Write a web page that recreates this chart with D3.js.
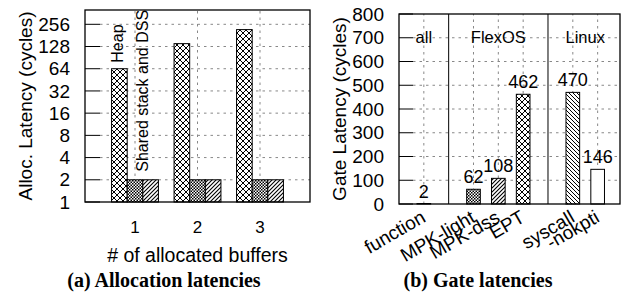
<!DOCTYPE html>
<meta charset="utf-8">
<script src="https://d3js.org/d3.v7.min.js"></script>
<style>
  body { margin: 0; background: white; }
  text { font-family: "Liberation Sans", Arial, sans-serif; fill: black; }
  .caption { font-family: "Liberation Serif", "Times New Roman", serif; font-weight: bold; }
</style>
<svg id="chart" width="626" height="297"></svg>
<script>

// ---- data: (a) allocation latencies (log2 scale)
var buffers = [1, 2, 3];
var heapLat = [64, 140, 217];
var stackLat = [2, 2, 2];
var dssLat = [2, 2, 2];
var allocTicks = [1, 2, 4, 8, 16, 32, 64, 128, 256];

// ---- data: (b) gate latencies
var gateNames = ["function", "MPK-light", "MPK-dss", "EPT", "syscall", "-nokpti"];
var gatePos = [0, 2, 3, 4, 6, 7];
var gateLat = [2, 62, 108, 462, 470, 146];
var gateFill = ["white", "url(#checker)", "url(#slash)", "url(#cross)", "url(#back)", "white"];
var groupNames = ["all", "FlexOS", "Linux"];
var groupPos = [0, 3, 6.5];
var groupSeps = [1, 5];
var gateTicks = [0, 100, 200, 300, 400, 500, 600, 700, 800];

var svg = d3.select("#chart");

// fill patterns
var defs = svg.append("defs");
function pattern(id, size, d, sw) {
  var p = defs.append("pattern")
    .attr("id", id)
    .attr("patternUnits", "userSpaceOnUse")
    .attr("width", size).attr("height", size);
  p.append("rect").attr("width", size).attr("height", size).attr("fill", "white");
  p.append("path").attr("d", d).attr("stroke", "black").attr("stroke-width", sw).attr("fill", "none");
}
pattern("cross", 6, "M-1,-1L7,7M7,-1L-1,7", 1);
pattern("slash", 4, "M-1,5L5,-1M-1,1L1,-1M3,5L5,3", 1.1);
pattern("back", 4, "M-1,-1L5,5M-1,3L1,5M3,-1L5,1", 1);
var chk = defs.append("pattern")
  .attr("id", "checker")
  .attr("patternUnits", "userSpaceOnUse")
  .attr("width", 3).attr("height", 3);
chk.append("rect").attr("width", 3).attr("height", 3).attr("fill", "white");
chk.append("rect").attr("width", 1.5).attr("height", 1.5).attr("fill", "black");
chk.append("rect").attr("x", 1.5).attr("y", 1.5).attr("width", 1.5).attr("height", 1.5).attr("fill", "black");

var gridDash = "2.5,4";

// =============== (a) Allocation latencies
var xa = d3.scaleLinear().domain([0.2, 3.8]).range([85, 310]);
var ya = d3.scaleLog().base(2).domain([1, 400]).range([202, 10]);
var ga = svg.append("g");

// grid
ga.selectAll(".hgrid").data(allocTicks.slice(1)).enter().append("line")
  .attr("x1", xa(0.2) + 15).attr("x2", xa(3.8))
  .attr("y1", function(d) { return ya(d); }).attr("y2", function(d) { return ya(d); })
  .attr("stroke", "#888").attr("stroke-dasharray", gridDash);
ga.selectAll(".vgrid").data(buffers).enter().append("line")
  .attr("x1", function(d) { return xa(d); }).attr("x2", function(d) { return xa(d); })
  .attr("y1", ya(1)).attr("y2", ya(400))
  .attr("stroke", "#888").attr("stroke-dasharray", gridDash);

// ticks
ga.selectAll(".ytick").data(allocTicks).enter().append("line")
  .attr("x1", xa(0.2)).attr("x2", xa(0.2) + 15)
  .attr("y1", function(d) { return ya(d); }).attr("y2", function(d) { return ya(d); })
  .attr("stroke", "black");
ga.selectAll(".ylab").data(allocTicks).enter().append("text")
  .attr("x", 70).attr("y", function(d) { return ya(d); })
  .attr("dy", "0.35em")
  .attr("text-anchor", "end")
  .style("font-size", "19px")
  .text(function(d) { return d; });
ga.selectAll(".xlab").data(buffers).enter().append("text")
  .attr("x", function(d) { return xa(d); }).attr("y", 233)
  .attr("text-anchor", "middle")
  .style("font-size", "17px")
  .text(function(d) { return d; });

// bars
var bw = 0.25;
var series = [[heapLat, "url(#cross)", -bw], [stackLat, "url(#checker)", 0], [dssLat, "url(#slash)", bw]];
series.forEach(function(s) {
  ga.selectAll(null).data(buffers).enter().append("rect")
    .attr("x", function(d) { return xa(d + s[2] - bw / 2); })
    .attr("width", xa(bw) - xa(0))
    .attr("y", function(d, i) { return ya(s[0][i]); })
    .attr("height", function(d, i) { return ya(1) - ya(s[0][i]); })
    .attr("fill", s[1])
    .attr("stroke", "black").attr("stroke-width", 1);
});

// in-plot labels
ga.append("text")
  .attr("transform", "translate(" + (xa(1 - bw) + 4) + "," + (ya(heapLat[0]) - 6) + ") rotate(-90)")
  .style("font-size", "16px")
  .text("Heap");
ga.append("text")
  .attr("transform", "translate(" + (xa(1) + 13) + "," + (ya(stackLat[0]) - 8) + ") rotate(-90)")
  .style("font-size", "16px")
  .text("Shared stack and DSS");

// frame
ga.append("rect")
  .attr("x", xa(0.2)).attr("y", ya(400))
  .attr("width", xa(3.8) - xa(0.2)).attr("height", ya(1) - ya(400))
  .attr("fill", "none").attr("stroke", "black").attr("stroke-width", 1.3);

// axis titles
ga.append("text")
  .attr("transform", "translate(32," + ((ya(1) + ya(400)) / 2) + ") rotate(-90)")
  .attr("text-anchor", "middle")
  .style("font-size", "19px")
  .text("Alloc. Latency (cycles)");
ga.append("text")
  .attr("x", (xa(0.2) + xa(3.8)) / 2).attr("y", 262)
  .attr("text-anchor", "middle")
  .style("font-size", "19.5px")
  .text("# of allocated buffers");
ga.append("text").attr("class", "caption")
  .attr("x", 164).attr("y", 287)
  .attr("text-anchor", "middle")
  .style("font-size", "20px")
  .text("(a) Allocation latencies");

// =============== (b) Gate latencies
var xb = d3.scaleLinear().domain([-1, 7.9]).range([399, 620]);
var yb = d3.scaleLinear().domain([0, 800]).range([204, 14]);
var gb = svg.append("g");

gb.selectAll(".hgrid").data(gateTicks.slice(1, -1)).enter().append("line")
  .attr("x1", xb(-1) + 14).attr("x2", xb(7.9))
  .attr("y1", function(d) { return yb(d); }).attr("y2", function(d) { return yb(d); })
  .attr("stroke", "#888").attr("stroke-dasharray", gridDash);
gb.selectAll(".vgrid").data(gatePos).enter().append("line")
  .attr("x1", function(d) { return xb(d); }).attr("x2", function(d) { return xb(d); })
  .attr("y1", yb(0)).attr("y2", yb(800))
  .attr("stroke", "#888").attr("stroke-dasharray", gridDash);

gb.selectAll(".ytick").data(gateTicks).enter().append("line")
  .attr("x1", xb(-1)).attr("x2", xb(-1) + 14)
  .attr("y1", function(d) { return yb(d); }).attr("y2", function(d) { return yb(d); })
  .attr("stroke", "black");
gb.selectAll(".ylab").data(gateTicks).enter().append("text")
  .attr("x", 384).attr("y", function(d) { return yb(d); })
  .attr("dy", "0.35em")
  .attr("text-anchor", "end")
  .style("font-size", "19px")
  .text(function(d) { return d; });

// separators
gb.selectAll(".sep").data(groupSeps).enter().append("line")
  .attr("x1", function(d) { return xb(d); }).attr("x2", function(d) { return xb(d); })
  .attr("y1", yb(0)).attr("y2", yb(800))
  .attr("stroke", "black").attr("stroke-width", 1);

// bars
var gw = 0.55;
gb.selectAll(".bar").data(gateLat).enter().append("rect")
  .attr("x", function(d, i) { return xb(gatePos[i] - gw / 2); })
  .attr("width", xb(gw) - xb(0))
  .attr("y", function(d) { return yb(d); })
  .attr("height", function(d) { return yb(0) - yb(d); })
  .attr("fill", function(d, i) { return gateFill[i]; })
  .attr("stroke", "black").attr("stroke-width", 1);

gb.selectAll(".val").data(gateLat).enter().append("text")
  .attr("x", function(d, i) { return xb(gatePos[i]); })
  .attr("y", function(d) { return yb(d) - 6; })
  .attr("text-anchor", "middle")
  .style("font-size", "18px")
  .text(function(d) { return d; });

gb.selectAll(".grp").data(groupNames).enter().append("text")
  .attr("x", function(d, i) { return xb(groupPos[i]); })
  .attr("y", 43)
  .attr("text-anchor", "middle")
  .style("font-size", "16.5px")
  .text(function(d) { return d; });

gb.selectAll(".xlab").data(gateNames).enter().append("text")
  .attr("transform", function(d, i) { return "translate(" + (xb(gatePos[i]) + 3) + ",221) rotate(-30)"; })
  .attr("text-anchor", "end")
  .style("font-size", "19px")
  .text(function(d) { return d; });

gb.append("rect")
  .attr("x", xb(-1)).attr("y", yb(800))
  .attr("width", xb(7.9) - xb(-1)).attr("height", yb(0) - yb(800))
  .attr("fill", "none").attr("stroke", "black").attr("stroke-width", 1.3);

gb.append("text")
  .attr("transform", "translate(346," + ((yb(0) + yb(800)) / 2) + ") rotate(-90)")
  .attr("text-anchor", "middle")
  .style("font-size", "19px")
  .text("Gate Latency (cycles)");
gb.append("text").attr("class", "caption")
  .attr("x", 478).attr("y", 287)
  .attr("text-anchor", "middle")
  .style("font-size", "20px")
  .text("(b) Gate latencies");

</script>
